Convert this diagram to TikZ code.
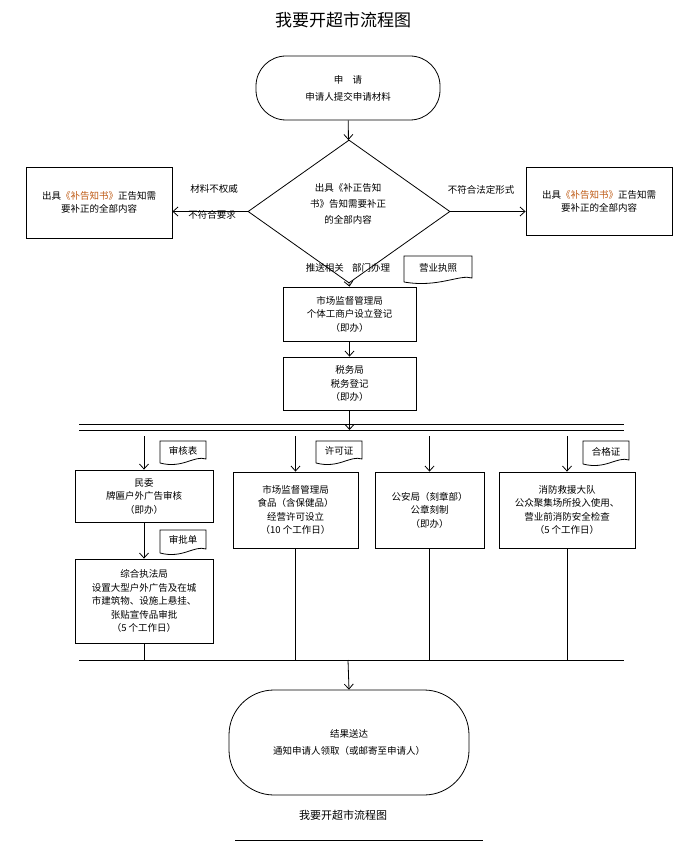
\documentclass[tikz,border=0pt]{standalone}
\usepackage{fontspec}
\setmainfont{Noto Sans CJK SC}
\usetikzlibrary{shapes.geometric,arrows.meta}
\tikzset{
  box/.style={draw, thick, align=center, font=\fontsize{9.5}{13.5}\selectfont, inner sep=1pt},
  term/.style={draw, thick, rounded corners=30pt, align=center, font=\fontsize{9.5}{17}\selectfont},
  tag/.style={align=center, font=\fontsize{9.5}{11}\selectfont, inner sep=0pt},
  lbl/.style={font=\fontsize{9.5}{11}\selectfont, inner sep=1pt},
  flow/.style={thick, -{Straight Barb[length=5pt,width=9pt]}},
}
\definecolor{bu}{RGB}{190,90,20}
\newcommand{\doctag}[5]{% name, x1, y1, x2, y2
  \node[tag, minimum width=#4pt-#2pt] (#1) at ({(#2+#4)/2},{(#3+#5)/2-2}) {};
  \draw[thick] (#2,#5) -- (#2,#3) -- (#4,#3) -- (#4,#5-4)
    .. controls ({#4-12},{#5-8}) and ({(#2+#4)/2},{#5+6}) .. (#2,#5);
}
\begin{document}
\begin{tikzpicture}[x=1pt,y=-1pt]
  \useasboundingbox (0,0) rectangle (685,850);
  \node[font=\fontsize{17}{20}\selectfont] (title) at (343,20) {我要开超市流程图};
  % start
  \node[term, minimum width=184pt, minimum height=64pt] (start) at (348,88)
    {申\quad 请\\申请人提交申请材料};
  \node[diamond, draw, thick, aspect=1.63, minimum width=202pt, minimum height=143pt,
    inner sep=0pt] (check) at (349,211.5) {};
  \node[align=center, font=\fontsize{9.5}{16}\selectfont] at (348,204)
    {出具《补正告知\\书》告知需要补正\\的全部内容};
  \draw[flow] (start) -- (check);
  \node[box, minimum width=146pt, minimum height=71pt] (left) at (99,202.5)
    {出具\textcolor{bu}{《补告知书》}正告知需\\要补正的全部内容};
  \node[box, minimum width=146pt, minimum height=68pt] (right) at (599,201.5)
    {出具\textcolor{bu}{《补告知书》}正告知需\\要补正的全部内容};
  \draw[flow] (check.west) -- (left.east |- check.west);
  \node[lbl] at (214,189) {材料不权威};
  \node[lbl] at (212,215) {不符合要求};
  \draw[flow] (check.east) -- (right.west |- check.east);
  \node[lbl] at (481,190) {不符合法定形式};
  % offices
  \node[box, minimum width=133pt, minimum height=54pt] (market) at (349.5,314)
    {市场监督管理局\\个体工商户设立登记\\（即办）};
  \node[box, minimum width=133pt, minimum height=53pt] (tax) at (349.5,383.5)
    {税务局\\税务登记\\（即办）};
  \draw[flow] (check.south) -- (market.north);
  \node[lbl, anchor=east] at (345,268) {推送相关};
  \node[lbl, anchor=west] at (351,268) {部门办理};
  \doctag{licence}{404}{256}{472}{282}
  \node[tag] at (438,268) {营业执照};
  \draw[flow] (market) -- (tax);
  % split bus
  \coordinate (busL) at (79,430);
  \coordinate (busR) at (624,430);
  \draw[thick] (busL) -- (busR);
  \draw[thick] ([yshift=6]busL) -- ([yshift=6]busR);
  \draw[flow] (tax.south) -- (349.5,430);
  \node[box, minimum width=138pt, minimum height=52pt] (minwei) at (144,496)
    {民委\\牌匾户外广告审核\\（即办）};
  \node[box, minimum width=125pt, minimum height=76pt] (food) at (295.5,510)
    {市场监督管理局\\食品（含保健品）\\经营许可设立\\（10 个工作日）};
  \node[box, minimum width=109pt, minimum height=76pt] (police) at (429.5,510)
    {公安局（刻章部）\\公章刻制\\（即办）};
  \node[box, minimum width=136pt, minimum height=76pt] (fire) at (567,510)
    {消防救援大队\\公众聚集场所投入使用、\\营业前消防安全检查\\（5 个工作日）};
  \node[box, minimum width=138pt, minimum height=84pt] (zonghe) at (144,601)
    {综合执法局\\设置大型户外广告及在城\\市建筑物、设施上悬挂、\\张贴宣传品审批\\（5 个工作日）};
  \foreach \n in {minwei, food, police, fire}
    \draw[flow] (\n.north |- 0,436) -- (\n.north);
  \draw[flow] (minwei) -- (zonghe);
  \doctag{audit}{160}{441}{206}{463}
  \node[tag] at (183,451) {审核表};
  \doctag{permit}{316}{441}{362}{463}
  \node[tag] at (339,451) {许可证};
  \doctag{pass}{583}{441}{629}{464}
  \node[tag] at (606,452) {合格证};
  \doctag{approve}{160}{530}{206}{553}
  \node[tag] at (183,540) {审批单};
  % merge bus
  \coordinate (mergeL) at (79,660);
  \coordinate (mergeR) at (624,660);
  \draw[thick] (mergeL) -- (mergeR);
  \foreach \n in {zonghe, food, police, fire}
    \draw[thick] (\n.south) -- (\n.south |- mergeL);
  \node[term, rounded corners=45pt, minimum width=240pt, minimum height=105pt] (result) at (349,742.5)
    {结果送达\\通知申请人领取（或邮寄至申请人）};
  \draw[flow] (348,660) -- (result.north);
  \node[font=\fontsize{11}{13}\selectfont] (caption) at (343,815) {我要开超市流程图};
  \draw[thick] (235,840) -- (483,840);
\end{tikzpicture}
\end{document}
